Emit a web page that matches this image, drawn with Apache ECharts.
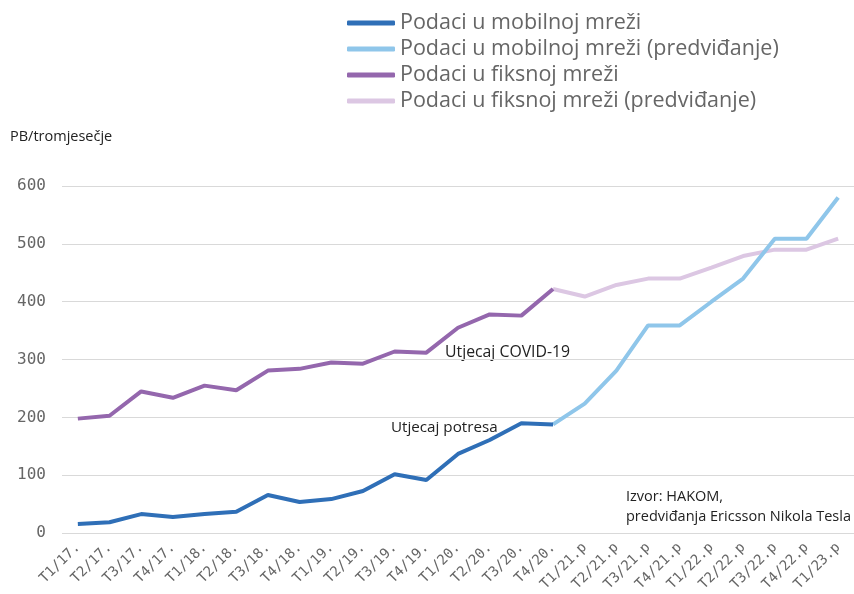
<!DOCTYPE html>
<html><head><meta charset="utf-8">
<script src="https://cdn.jsdelivr.net/npm/echarts@6/dist/echarts.min.js"></script>
<style>html,body{margin:0;padding:0;background:#fff}#c{width:854px;height:594px}</style>
</head><body><div id="c"></div>
<script>
const categories = ['T1/17.','T2/17.','T3/17.','T4/17.','T1/18.','T2/18.','T3/18.','T4/18.','T1/19.','T2/19.','T3/19.','T4/19.','T1/20.','T2/20.','T3/20.','T4/20.','T1/21.p','T2/21.p','T3/21.p','T4/21.p','T1/22.p','T2/22.p','T3/22.p','T4/22.p','T1/23.p'];
const mobile = [16,19,33,28,33,37,66,54,59,73,102,92,137,161,190,188,null,null,null,null,null,null,null,null,null];
const mobileForecast = [null,null,null,null,null,null,null,null,null,null,null,null,null,null,null,188,224,281,359,359,400,440,509,509,580];
const fixed = [198,203,245,234,255,247,281,284,295,293,314,312,355,378,376,422,null,null,null,null,null,null,null,null,null];
const fixedForecast = [null,null,null,null,null,null,null,null,null,null,null,null,null,null,null,422,409,429,440,440,459,479,490,490,509];
const seriesNames = ['Podaci u mobilnoj mreži','Podaci u mobilnoj mreži (predviđanje)','Podaci u fiksnoj mreži','Podaci u fiksnoj mreži (predviđanje)'];
const colors = ['#2f6fb7','#8fc6ea','#9467ad','#dcc7e3'];
const yTicks = {min:0,max:600,interval:100};

const font = '"Open Sans", sans-serif';
const mono = '"DejaVu Sans Mono", monospace';
const chart = echarts.init(document.getElementById('c'));
const mk = (i, data) => ({
  name: seriesNames[i], type: 'line', data: data, symbol: 'none', connectNulls: false,
  lineStyle: {width: 4, color: colors[i]}, itemStyle: {color: colors[i]}, z: 4 - i, animation: false
});
chart.setOption({
  animation: false,
  grid: {left: 62, right: 0, top: 186, bottom: 60},
  legend: {
    orient: 'vertical', left: 347, top: 12, padding: 0, itemWidth: 48, itemHeight: 5, itemGap: 4,
    icon: 'roundRect',
    textStyle: {fontFamily: font, fontSize: 21.5, color: '#666', lineHeight: 21.5, padding: [0,0,0,0]},
    data: seriesNames
  },
  xAxis: {
    type: 'category', data: categories, boundaryGap: true,
    axisLine: {show: false}, axisTick: {show: false},
    axisLabel: {rotate: 45, fontFamily: mono, fontSize: 14, color: '#666', margin: 12, interval: 0}
  },
  yAxis: {
    type: 'value', min: yTicks.min, max: yTicks.max, interval: yTicks.interval,
    axisLine: {show: false}, axisTick: {show: false},
    splitLine: {lineStyle: {color: '#d9d9d9', width: 1}},
    axisLabel: {fontFamily: mono, fontSize: 16, color: '#666', margin: 16}
  },
  graphic: [
    {type: 'text', left: 10, top: 129, style: {text: 'PB/tromjesečje', fontFamily: font, fontSize: 14.5, fill: '#222'}},
    {type: 'text', left: 445, top: 344, style: {text: 'Utjecaj COVID-19', fontFamily: font, fontSize: 15.8, fill: '#222'}},
    {type: 'text', left: 391, top: 420, style: {text: 'Utjecaj potresa', fontFamily: font, fontSize: 15.2, fill: '#222'}},
    {type: 'text', left: 626, top: 487, style: {text: 'Izvor: HAKOM,\npredviđanja Ericsson Nikola Tesla', fontFamily: font, fontSize: 14.5, lineHeight: 20, fill: '#222'}}
  ],
  series: [mk(0, mobile), mk(1, mobileForecast), mk(2, fixed), mk(3, fixedForecast)]
});
</script></body></html>
